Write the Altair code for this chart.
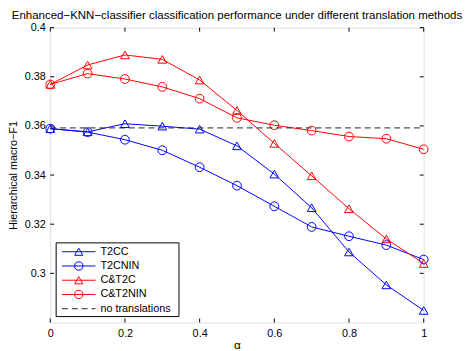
import altair as alt
import pandas as pd

alpha = [0.0, 0.1, 0.2, 0.3, 0.4, 0.5, 0.6, 0.7, 0.8, 0.9, 1.0]
t2cc = [0.3589, 0.3576, 0.3609, 0.3599, 0.3587, 0.3519, 0.3404, 0.3267, 0.3087, 0.2953, 0.2849]
t2cnin = [0.3589, 0.3575, 0.3544, 0.3501, 0.3432, 0.3357, 0.3273, 0.3189, 0.3151, 0.3115, 0.3056]
ct2c = [0.3769, 0.3848, 0.3889, 0.3871, 0.3787, 0.3663, 0.3529, 0.3397, 0.3263, 0.3140, 0.3040]
ct2nin = [0.3769, 0.3813, 0.3791, 0.3759, 0.3711, 0.3633, 0.3603, 0.3581, 0.3557, 0.3548, 0.3505]
no_translation = 0.3592

series_names = ["T2CC", "T2CNIN", "C&T2C", "C&T2NIN"]
series_colors = ["#0000ff", "#0000ff", "#ff0000", "#ff0000"]
series_shapes = ["triangle-up", "circle", "triangle-up", "circle"]
legend_labels = series_names + ["no translations"]

x_ticks = [0, 0.2, 0.4, 0.6, 0.8, 1.0]
y_ticks = [0.3, 0.32, 0.34, 0.36, 0.38, 0.4]

title_text = "Enhanced\u2212KNN\u2212classifier classification performance under different translation methods"
FONT = "Liberation Sans"

rows = []
for name, vals in zip(series_names, [t2cc, t2cnin, ct2c, ct2nin]):
    for a, v in zip(alpha, vals):
        rows.append({"alpha": a, "value": v, "series": name})
df = pd.DataFrame(rows)

W, H = 380, 300
xscale = alt.Scale(domain=[0, 1], nice=False, zero=False)
yscale = alt.Scale(domain=[0.28, 0.4], nice=False, zero=False)
xaxis = alt.Axis(values=x_ticks, format="~g", title="\u03b1", grid=False, domain=False,
                 ticks=False, labelPadding=5, titlePadding=1, labelFontSize=11,
                 titleFontSize=12, titleFontWeight="normal", labelFont=FONT, titleFont=FONT,
                 labelColor="#000", titleColor="#000", labelFlush=False)
yaxis = alt.Axis(values=y_ticks, format="~g", title="Hierarchical macro\u2212F1", grid=False,
                 domain=False, ticks=False, labelPadding=5, titlePadding=6, labelFontSize=11,
                 titleFontSize=11, titleFontWeight="normal", labelFont=FONT, titleFont=FONT,
                 labelColor="#000", titleColor="#000", labelFlush=False)

color = alt.Color("series:N", scale=alt.Scale(domain=series_names, range=series_colors), legend=None)
shape = alt.Shape("series:N", scale=alt.Scale(domain=series_names, range=series_shapes), legend=None)

X = alt.X("alpha:Q", scale=xscale, axis=xaxis)
Y = alt.Y("value:Q", scale=yscale, axis=yaxis)

lines = alt.Chart(df).mark_line(strokeWidth=1).encode(x=X, y=Y, color=color, detail="series:N")
points = alt.Chart(df).mark_point(size=80, filled=False, strokeWidth=1, opacity=1).encode(
    x=X, y=Y, color=color, shape=shape)

base_df = pd.DataFrame({"alpha": [0.0, 1.0], "value": [no_translation, no_translation]})
base_line = alt.Chart(base_df).mark_line(color="#222", strokeWidth=1, strokeDash=[6, 4]).encode(x=X, y=Y)

xt = pd.DataFrame({"alpha": x_ticks})
yt = pd.DataFrame({"value": y_ticks})
tick_bottom = alt.Chart(xt).mark_rule(color="#000", strokeWidth=1).encode(x=X, y=alt.value(H), y2=alt.value(H - 4))
tick_top = alt.Chart(xt).mark_rule(color="#000", strokeWidth=1).encode(x=X, y=alt.value(0), y2=alt.value(4))
tick_left = alt.Chart(yt).mark_rule(color="#000", strokeWidth=1).encode(y=Y, x=alt.value(0), x2=alt.value(4))
tick_right = alt.Chart(yt).mark_rule(color="#000", strokeWidth=1).encode(y=Y, x=alt.value(W), x2=alt.value(W - 4))

# manual legend (MATLAB style box)
one = pd.DataFrame({"k": [0]})
lx0, lx1, ly0, ly1 = 6, 131, 219, 294
legend_layers = [
    alt.Chart(one).mark_rect(fill="white", stroke="#000", strokeWidth=1).encode(
        x=alt.value(lx0), x2=alt.value(lx1), y=alt.value(ly0), y2=alt.value(ly1))
]
for i, lab in enumerate(legend_labels):
    yy = 228 + i * 14.5
    if i < len(series_names):
        legend_layers.append(alt.Chart(one).mark_rule(color=series_colors[i], strokeWidth=1).encode(
            x=alt.value(12), x2=alt.value(46), y=alt.value(yy)))
        legend_layers.append(alt.Chart(one).mark_point(
            size=70, filled=False, strokeWidth=1, shape=series_shapes[i], color=series_colors[i], opacity=1
        ).encode(x=alt.value(29), y=alt.value(yy)))
    else:
        legend_layers.append(alt.Chart(one).mark_rule(color="#222", strokeWidth=1, strokeDash=[6, 4]).encode(
            x=alt.value(12), x2=alt.value(46), y=alt.value(yy)))
    legend_layers.append(alt.Chart(one).mark_text(
        text=lab, align="left", baseline="middle", fontSize=11, font=FONT, color="#000"
    ).encode(x=alt.value(51), y=alt.value(yy)))

chart = alt.layer(
    lines, points, base_line, tick_bottom, tick_top, tick_left, tick_right, *legend_layers
).properties(
    width=W, height=H,
    title=alt.TitleParams(title_text, fontSize=11.7, font=FONT, fontWeight="normal",
                          anchor="middle", color="#000", offset=0),
    autosize=alt.AutoSizeParams(type="none"),
    padding={"left": 43, "top": 17, "right": 40, "bottom": 26},
).configure_view(stroke="#000", strokeWidth=1.2).configure(background="white")

chart.save("out.html", embed_options={"renderer": "svg", "actions": False})
